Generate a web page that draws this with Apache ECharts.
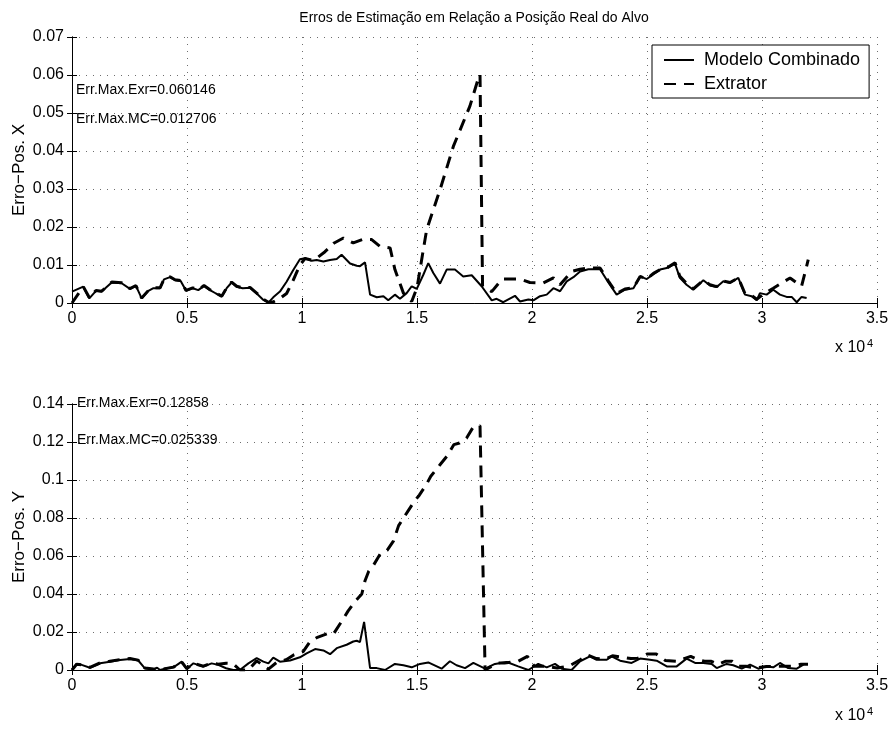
<!DOCTYPE html>
<html>
<head>
<meta charset="utf-8">
<script src="https://cdn.jsdelivr.net/npm/echarts@6/dist/echarts.min.js"></script>
<style>
  html, body { margin: 0; padding: 0; background: #fff; }
  #chart { width: 892px; height: 729px; }
</style>
</head>
<body>
<div id="chart"></div>
<script>
// Position error along X (top panel): sample index and error value
const topMcX = [0,490,753,1043,1290,1725,2160,2520,2780,3030,3320,3540,3830,4000,4260,4480,4725,4960,5250,5490,5740,6000,6260,6510,6725,6940,7160,7420,7740,8030,8320,8540,8750,9040,9330,9620,9910,10130,10420,10640,10930,11220,11510,11720,12090,12380,12520,12740,12960,13250,13540,13750,14040,14260,14550,14770,14990,15280,15490,15710,16000,16290,16650,17010,17380,17810,18250,18460,18750,19260,19480,19840,20060,20350,20640,20930,21220,21510,21800,22090,22450,22960,23320,23680,24040,24410,24700,24990,25280,25570,25860,26220,26430,26720,27010,27450,27740,28030,28320,28610,28970,29260,29550,29770,29910,30200,30490,30780,31070,31290,31510,31720,31940];
const topMcY = [0.0030,0.0043,0.0012,0.0032,0.0030,0.0054,0.0052,0.0037,0.0045,0.0012,0.0032,0.0039,0.0039,0.0062,0.0068,0.0060,0.0058,0.0032,0.0039,0.0034,0.0045,0.0034,0.0025,0.0017,0.0039,0.0054,0.0043,0.0039,0.0040,0.0025,0.0008,0.0001,0.0015,0.0030,0.0056,0.0087,0.0115,0.0118,0.0111,0.0113,0.0109,0.0113,0.0116,0.012706,0.0104,0.0098,0.0097,0.0107,0.0022,0.0015,0.0018,0.0007,0.0022,0.0011,0.0026,0.0044,0.0037,0.0075,0.0105,0.0079,0.0051,0.0088,0.0088,0.0070,0.0073,0.0044,0.0007,0.0011,0.0002,0.0019,0.0004,0.0009,0.0007,0.0018,0.0022,0.0039,0.0031,0.0057,0.0068,0.0083,0.0089,0.0089,0.0054,0.0022,0.0035,0.0039,0.0070,0.0063,0.0076,0.0088,0.0092,0.0103,0.0066,0.0048,0.0035,0.0060,0.0046,0.0042,0.0057,0.0053,0.0066,0.0022,0.0018,0.0007,0.0026,0.0022,0.0035,0.0022,0.0016,0.0016,0.0002,0.0016,0.0013];

const topExX = [0,490,753,1043,1290,1725,2160,2520,2780,3030,3320,3540,3830,4000,4260,4480,4725,4960,5250,5490,5740,6000,6260,6510,6725,6940,7160,7420,7740,8030,8320,8540,8750,9040,9330,9620,9910,10130,10420,10640,11000,11400,11800,12230,12670,13030,13390,13830,14040,14410,14770,15000,15420,16000,16580,17300,17670,17740,17850,18250,18700,19480,19910,20490,20930,21220,21720,22090,22450,22960,23320,23680,24040,24410,24700,24990,25280,25570,25860,26220,26430,26720,27010,27450,27740,28030,28320,28610,28970,29260,29550,29770,30130,30490,31220,31720,32010];
const topExY = [0.0000,0.0043,0.0014,0.0033,0.0031,0.0055,0.0053,0.0038,0.0046,0.0013,0.0033,0.0040,0.0040,0.0063,0.0069,0.0061,0.0059,0.0033,0.0040,0.0035,0.0046,0.0035,0.0026,0.0018,0.0040,0.0055,0.0044,0.0040,0.0041,0.0026,0.0010,0.0002,0.0003,0.0012,0.0025,0.0060,0.0100,0.0117,0.0113,0.0118,0.0135,0.0158,0.0171,0.0158,0.0168,0.0167,0.0149,0.0145,0.0088,0.0026,0.0004,0.0040,0.0193,0.0298,0.0412,0.0518,0.0592,0.060146,0.0045,0.0030,0.0063,0.0063,0.0054,0.0053,0.0066,0.0048,0.0083,0.0089,0.0092,0.0092,0.0058,0.0025,0.0037,0.0040,0.0070,0.0063,0.0078,0.0088,0.0092,0.0106,0.0070,0.0052,0.0037,0.0060,0.0048,0.0043,0.0058,0.0054,0.0066,0.0025,0.0020,0.0010,0.0026,0.0039,0.0066,0.0044,0.0114];

// Position error along Y (bottom panel)
const botMcX = [0,200,420,780,1220,1650,2090,2520,2880,3170,3550,3700,3830,4120,4410,4770,4990,5280,5710,6070,6360,6700,7010,7300,7670,8030,8320,8540,8750,9040,9480,9910,10200,10570,10930,11220,11510,11940,12230,12380,12520,12700,12960,13250,13610,14040,14410,14770,15130,15490,15860,16070,16430,16720,17090,17450,17960,18390,18900,19400,19840,20270,20640,21000,21290,21720,22090,22520,22810,23250,23460,23830,24330,24700,25130,25420,25860,26290,26720,27090,27450,27810,28030,28460,28750,29120,29480,29840,30200,30490,30780,31140,31510,31800];
const botMcY = [0.0000,0.0032,0.0027,0.0012,0.0035,0.0044,0.0053,0.0058,0.0050,0.0009,0.0004,0.0012,0.0000,0.0009,0.0014,0.0044,0.0005,0.0035,0.0018,0.0035,0.0027,0.0009,0.0000,0.0000,0.0035,0.0062,0.0044,0.0035,0.0065,0.0044,0.0050,0.0067,0.0088,0.0110,0.0103,0.0083,0.0115,0.0133,0.0150,0.0154,0.0147,0.025339,0.0010,0.0010,0.0000,0.0032,0.0025,0.0014,0.0032,0.0040,0.0019,0.0007,0.0046,0.0025,0.0010,0.0037,0.0007,0.0032,0.0042,0.0019,0.0000,0.0032,0.0014,0.0032,0.0007,0.0000,0.0046,0.0072,0.0054,0.0054,0.0072,0.0049,0.0037,0.0060,0.0054,0.0049,0.0019,0.0019,0.0060,0.0037,0.0037,0.0032,0.0010,0.0032,0.0025,0.0007,0.0028,0.0007,0.0019,0.0014,0.0037,0.0010,0.0007,0.0028];

const botExX = [0,200,420,780,1220,1650,2090,2520,2880,3170,3550,3830,4410,4770,4990,5280,5710,6070,6360,6700,7000,7300,7670,8030,8540,8900,9330,9620,10050,10350,10640,11080,11370,11800,12000,12300,12600,12740,12900,13100,13400,13700,13980,14200,14600,14900,15100,15400,15600,16000,16300,16600,16850,17150,17450,17740,17960,18500,18800,19400,19800,20100,20600,21100,21600,22100,22400,22800,23200,23500,23800,24300,24600,25000,25400,25800,26300,26900,27200,27500,27800,28100,28400,28700,29000,29300,29700,30200,30600,31000,31300,31700,32000];
const botExY = [0.0000,0.0030,0.0027,0.0014,0.0037,0.0046,0.0055,0.0060,0.0052,0.0010,0.0005,0.0002,0.0015,0.0042,0.0007,0.0035,0.0020,0.0037,0.0030,0.0036,0.0034,0.0000,0.0000,0.0048,0.0005,0.0040,0.0055,0.0078,0.0097,0.0150,0.0170,0.0190,0.0190,0.0270,0.0310,0.0360,0.0400,0.0470,0.0520,0.0550,0.0610,0.0630,0.0680,0.0760,0.0835,0.0890,0.0920,0.0975,0.1020,0.1080,0.1125,0.1186,0.1195,0.1220,0.1280,0.12858,0.0000,0.0037,0.0037,0.0046,0.0072,0.0020,0.0020,0.0010,0.0020,0.0054,0.0080,0.0060,0.0058,0.0075,0.0070,0.0060,0.0062,0.0084,0.0084,0.0050,0.0046,0.0072,0.0055,0.0046,0.0046,0.0030,0.0046,0.0046,0.0020,0.0020,0.0010,0.0018,0.0020,0.0020,0.0020,0.0030,0.0030];

const seriesNames = ['Modelo Combinado', 'Extrator'];
const yNames = ['Erro\u2212Pos. X', 'Erro\u2212Pos. Y'];
const yMax = [0.07, 0.14];
const yStep = [0.01, 0.02];
const titleText = 'Erros de Estimação em Relação a Posição Real do Alvo';

const zip = (xs, ys) => xs.map((x, i) => [x, ys[i]]);

const FONT = '"Liberation Sans", Arial, Helvetica, sans-serif';
const grids = [
  { left: 72, right: 15, top: 37, height: 266 },
  { left: 72, right: 15, top: 404, height: 266 }
];
const dotted = { show: true, lineStyle: { color: '#6e6e6e', width: 1, type: [1, 6] } };
const boxLine = { show: true, lineStyle: { color: '#000', width: 1 } };
const tickIn = { show: true, inside: true, length: 5, lineStyle: { color: '#000', width: 1 } };
const fmtNum = v => String(parseFloat(Number(v).toFixed(4)));

const xAxes = [];
const yAxes = [];
grids.forEach((g, i) => {
  xAxes.push({
    type: 'value', gridIndex: i, position: 'bottom', min: 0, max: 35000, interval: 5000,
    axisLine: boxLine, axisTick: tickIn, splitLine: dotted,
    axisLabel: { color: '#000', fontSize: 16, fontFamily: FONT, margin: 8, formatter: v => fmtNum(v / 10000) }
  });
  xAxes.push({
    type: 'value', gridIndex: i, position: 'top', min: 0, max: 35000, interval: 5000,
    axisLine: boxLine, axisTick: tickIn, splitLine: { show: false }, axisLabel: { show: false }
  });
  yAxes.push({
    type: 'value', gridIndex: i, position: 'left', min: 0, max: yMax[i], interval: yStep[i],
    axisLine: boxLine, axisTick: tickIn, splitLine: dotted,
    axisLabel: { color: '#000', fontSize: 16, fontFamily: FONT, margin: 8, formatter: fmtNum }
  });
  yAxes.push({
    type: 'value', gridIndex: i, position: 'right', min: 0, max: yMax[i], interval: yStep[i],
    axisLine: boxLine, axisTick: tickIn, splitLine: { show: false }, axisLabel: { show: false }
  });
});

const solid = { color: '#000', width: 2, type: 'solid' };
const dashed = { color: '#000', width: 3, type: [12, 8] };
const mkLine = (name, data, xi, yi, style) => ({
  name, type: 'line', data, xAxisIndex: xi, yAxisIndex: yi,
  symbol: 'none', showSymbol: false, smooth: false, lineStyle: style,
  itemStyle: { color: '#000' }, emphasis: { disabled: true }, animation: false
});

const series = [
  mkLine(seriesNames[0], zip(topMcX, topMcY), 0, 0, solid),
  mkLine(seriesNames[1], zip(topExX, topExY), 0, 0, dashed),
  mkLine(seriesNames[0], zip(botMcX, botMcY), 2, 2, solid),
  mkLine(seriesNames[1], zip(botExX, botExY), 2, 2, dashed)
];

const maxOf = a => Math.max.apply(null, a);
const noteStyle = { fill: '#000', font: '14px ' + FONT, textVerticalAlign: 'middle' };
const graphic = [
  { type: 'text', x: 474, y: 18, style: { text: titleText, fill: '#000', font: '14px ' + FONT, textAlign: 'center', textVerticalAlign: 'middle' } },
  { type: 'text', x: 19, y: 170, rotation: Math.PI / 2, style: { text: yNames[0], fill: '#000', font: '17px ' + FONT, textAlign: 'center', textVerticalAlign: 'middle' } },
  { type: 'text', x: 19, y: 537, rotation: Math.PI / 2, style: { text: yNames[1], fill: '#000', font: '17px ' + FONT, textAlign: 'center', textVerticalAlign: 'middle' } },
  { type: 'text', x: 76, y: 90, z: 10, style: Object.assign({ text: 'Err.Max.Exr=' + maxOf(topExY) }, noteStyle) },
  { type: 'text', x: 76, y: 119, z: 10, style: Object.assign({ text: 'Err.Max.MC=' + maxOf(topMcY) }, noteStyle) },
  { type: 'text', x: 77, y: 403, z: 10, style: Object.assign({ text: 'Err.Max.Exr=' + maxOf(botExY) }, noteStyle) },
  { type: 'text', x: 77, y: 440, z: 10, style: Object.assign({ text: 'Err.Max.MC=' + maxOf(botMcY) }, noteStyle) }
];
[356, 724].forEach(yb => {
  graphic.push({ type: 'text', x: 835, y: yb, style: { text: 'x 10', fill: '#000', font: '16px ' + FONT, textVerticalAlign: 'bottom' } });
  graphic.push({ type: 'text', x: 867, y: yb - 7, style: { text: '4', fill: '#000', font: '11px ' + FONT, textVerticalAlign: 'bottom' } });
});

const chart = echarts.init(document.getElementById('chart'), null, { renderer: 'canvas' });
chart.setOption({
  backgroundColor: '#fff',
  animation: false,
  grid: grids,
  xAxis: xAxes,
  yAxis: yAxes,
  legend: {
    data: seriesNames,
    orient: 'vertical',
    left: 652, top: 45,
    padding: [6, 9, 5, 11],
    itemWidth: 30, itemHeight: 14, itemGap: 6,
    itemStyle: { opacity: 0 },
    backgroundColor: '#fff', borderColor: '#000', borderWidth: 1,
    textStyle: { color: '#000', fontSize: 18, fontFamily: FONT, lineHeight: 14, padding: [0, 0, 0, 5] },
    selectedMode: false
  },
  series,
  graphic
});
</script>
</body>
</html>
